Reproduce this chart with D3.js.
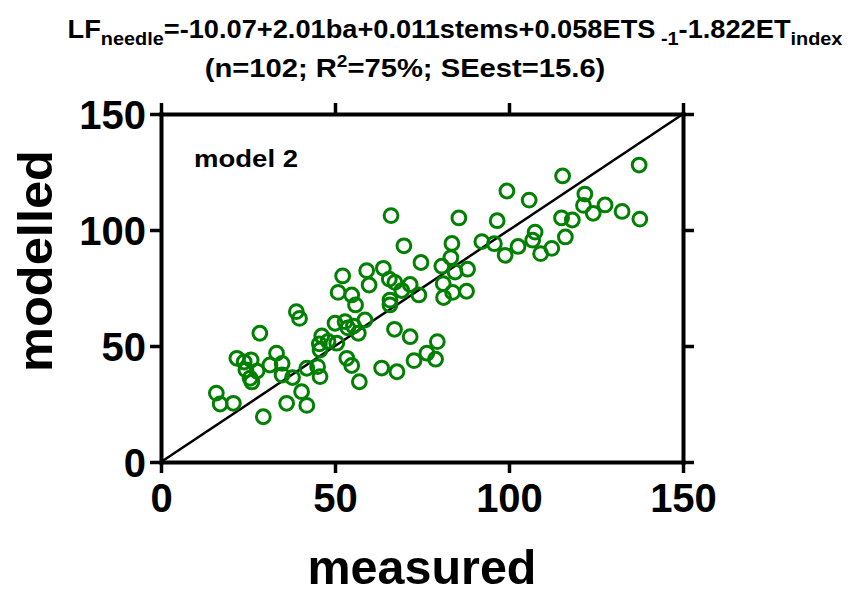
<!DOCTYPE html>
<html>
<head>
<meta charset="utf-8">
<script src="https://cdnjs.cloudflare.com/ajax/libs/d3/7.8.5/d3.min.js"></script>
<style>
  body { margin: 0; background: #fff; }
  svg text { font-family: "Liberation Sans", Arial, sans-serif; font-weight: bold; fill: #000; }
</style>
</head>
<body>
<svg id="chart" width="863" height="594"></svg>
<script>
// measured vs modelled needle litterfall (model 2)
const measured = [
  15.9, 17.0, 20.8, 29.4, 28.4, 21.8, 23.9, 25.9, 24.4, 25.6,
  27.6, 31.3, 33.2, 34.8, 34.8, 37.8, 41.9, 40.4, 41.9, 36.1,
  38.9, 39.8, 45.0, 45.7, 46.2, 45.5, 45.7, 50.0, 50.5, 50.9,
  52.2, 54.8, 55.9, 52.9, 55.3, 56.7, 58.6, 53.4, 54.8, 57.0,
  59.8, 59.1, 63.9, 65.6, 67.2, 69.2, 71.6, 74.1, 65.8, 65.8,
  63.4, 67.8, 67.1, 71.6, 72.7, 76.4, 79.4, 78.9, 66.1, 69.8,
  74.7, 80.7, 83.3, 84.5, 88.1, 81.1, 81.2, 83.8, 87.8, 83.6,
  85.6, 92.2, 95.8, 96.6, 98.9, 99.4, 102.6, 105.8, 106.8, 107.5,
  109.1, 112.3, 115.1, 115.4, 116.2, 118.2, 121.4, 121.8, 124.2, 127.6,
  132.5, 137.4, 137.6, 26.1, 53.7, 48.0
];
const modelled = [
  29.7, 25.0, 25.3, 19.5, 55.5, 44.7, 43.1, 44.0, 39.7, 36.1,
  39.2, 41.8, 46.9, 42.5, 37.5, 36.4, 40.4, 30.3, 24.4, 25.3,
  64.8, 61.9, 41.1, 36.8, 54.3, 50.9, 48.3, 59.8, 51.2, 73.1,
  80.2, 72.0, 67.7, 60.5, 58.6, 55.5, 61.2, 44.7, 41.6, 34.6,
  76.3, 82.5, 83.5, 78.8, 77.4, 73.9, 76.5, 72.0, 69.8, 67.7,
  40.5, 38.9, 57.2, 54.0, 43.7, 46.9, 51.9, 44.3, 106.2, 93.2,
  86.0, 84.4, 88.1, 81.9, 83.1, 76.9, 70.9, 73.1, 73.6, 94.2,
  105.2, 95.0, 94.1, 104.0, 89.1, 116.8, 92.9, 112.9, 95.6, 99.1,
  89.8, 92.1, 105.2, 123.3, 97.0, 104.3, 110.6, 115.5, 107.2, 110.8,
  108.0, 128.0, 104.7, 34.5, 57.8, 52.0
];
const tickValues = [0, 50, 100, 150];
const xTitle = "measured";
const yTitle = "modelled";
const panelLabel = "model 2";

const svg = d3.select("#chart");
const plotL = 161, plotR = 683, plotT = 114, plotB = 462;

const x = d3.scaleLinear().domain([0, 150]).range([plotL, plotR]);
const y = d3.scaleLinear().domain([0, 150]).range([plotB, plotT]);

const data = measured.map((m, i) => ({ m: m, p: modelled[i] }));

// 1:1 line
svg.append("line")
  .attr("x1", x(0)).attr("y1", y(0))
  .attr("x2", x(150)).attr("y2", y(150))
  .attr("stroke", "#000").attr("stroke-width", 2.5);

// points
svg.append("g").selectAll("circle")
  .data(data)
  .join("circle")
  .attr("cx", d => x(d.m))
  .attr("cy", d => y(d.p))
  .attr("r", 6.9)
  .attr("fill", "none")
  .attr("stroke", "#008000")
  .attr("stroke-width", 3);

// frame axes with outward ticks
function styleAxis(g) {
  g.select(".domain").attr("stroke-width", 4).attr("stroke-linecap", "square");
  g.selectAll(".tick line").attr("stroke-width", 3.5);
}
const gB = svg.append("g").attr("transform", `translate(0,${plotB})`)
  .call(d3.axisBottom(x).tickValues(tickValues).tickSize(11).tickSizeOuter(0));
const gL = svg.append("g").attr("transform", `translate(${plotL},0)`)
  .call(d3.axisLeft(y).tickValues(tickValues).tickSize(11).tickSizeOuter(0).tickPadding(4));
const gT = svg.append("g").attr("transform", `translate(0,${plotT})`)
  .call(d3.axisTop(x).tickValues(tickValues).tickSize(11).tickSizeOuter(0).tickFormat(""));
const gR = svg.append("g").attr("transform", `translate(${plotR},0)`)
  .call(d3.axisRight(y).tickValues(tickValues).tickSize(11).tickSizeOuter(0).tickFormat(""));
[gB, gL, gT, gR].forEach(styleAxis);

gB.selectAll(".tick text")
  .attr("y", 50).attr("dy", 0)
  .style("font-size", "40px");
gL.selectAll(".tick text")
  .attr("dy", "0.36em")
  .style("font-size", "40px");

// fit a text element horizontally into a target width, centred on cx
function fit(t, cx, cy, w) {
  const len = t.node().getComputedTextLength();
  const k = w / len;
  t.attr("text-anchor", "middle").attr("x", 0).attr("y", 0)
    .attr("transform", `translate(${cx},${cy}) scale(${k},1)`);
}

// axis titles
const xt = svg.append("text").style("font-size", "48px").text(xTitle);
fit(xt, 422, 584, 229);

const yt = svg.append("text").style("font-size", "48px").text(yTitle);
{
  const len = yt.node().getComputedTextLength();
  yt.attr("text-anchor", "middle")
    .attr("transform", `translate(52,261) rotate(-90) scale(${222 / len},1)`);
}

const pl = svg.append("text").style("font-size", "23px").text(panelLabel);
fit(pl, 246, 167, 104);

// title with subscripts
const t1 = svg.append("text").style("font-size", "26px");
t1.append("tspan").text("LF");
t1.append("tspan").attr("dy", 7).style("font-size", "19px").text("needle");
t1.append("tspan").attr("dy", -7).text("=-10.07+2.01ba+0.011stems+0.058ETS");
t1.append("tspan").attr("dy", 7).style("font-size", "19px").text(" -1");
t1.append("tspan").attr("dy", -7).text("-1.822ET");
t1.append("tspan").attr("dy", 7).style("font-size", "19px").text("index");
fit(t1, 455, 38, 775);

const t2 = svg.append("text").style("font-size", "26px");
t2.append("tspan").text("(n=102; R");
t2.append("tspan").attr("dy", -10).style("font-size", "17px").text("2");
t2.append("tspan").attr("dy", 10).text("=75%; SEest=15.6)");
fit(t2, 405, 77, 401);
</script>
</body>
</html>
